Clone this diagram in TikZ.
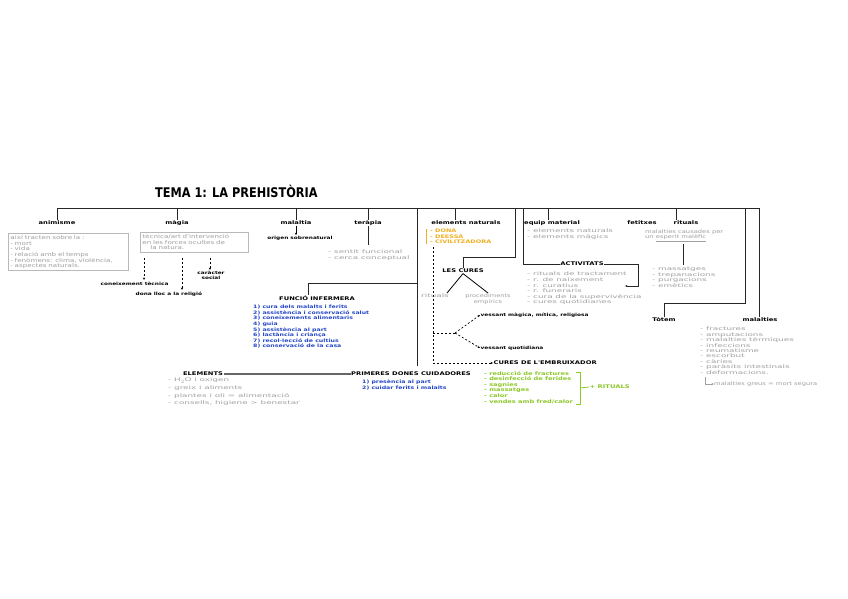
\documentclass[tikz,border=0pt]{standalone}
\usepackage{fontspec}
\setmainfont{DejaVu Sans}
\newfontfamily\hw[FakeStretch=1.35]{DejaVu Sans}
\newfontfamily\hwl[FakeStretch=1.8]{DejaVu Sans}
\newfontfamily\ttlfont[FakeStretch=0.85]{DejaVu Sans}
\usetikzlibrary{arrows.meta}
\definecolor{txtgray}{RGB}{160,160,160}
\definecolor{hblue}{RGB}{35,70,200}
\definecolor{horange}{RGB}{240,175,30}
\definecolor{hgreen}{RGB}{140,200,40}
\begin{document}
\begin{tikzpicture}[x=1pt,y=-1pt,
  lbl/.style={font=\hw\bfseries\fontsize{5}{5}\selectfont, inner sep=0.5pt},
  sml/.style={font=\hw\bfseries\fontsize{4.3}{5}\selectfont, inner sep=0.5pt, align=center},
  lst/.style={font=\hwl\fontsize{4.9}{5.6}\selectfont, text=txtgray, align=left, inner sep=0pt, anchor=north west},
  boxlst/.style={lst, font=\hw\fontsize{5.3}{5.6}\selectfont, draw=gray!55, line width=0.8pt, inner sep=2pt},
  blst/.style={lst, text=hblue, font=\hw\bfseries\fontsize{4.6}{5.6}\selectfont},
  ln/.style={line width=1pt, draw=black!85},
  dsh/.style={line width=0.7pt, dash pattern=on 2pt off 2pt},
  tip/.style={-{Stealth[length=2.5pt,width=2.2pt]}}
]
\fill[white] (0,0) rectangle (848,599);
\useasboundingbox (0,0) rectangle (848,599);

% title
\node[font=\ttlfont\bfseries\fontsize{13.3}{14}\selectfont, anchor=west, inner sep=0] (title) at (155,191) {TEMA 1: LA PREHISTÒRIA};

% bus
\coordinate (busL) at (57,208);
\coordinate (busR) at (759,208);
\draw[ln] (busL) -- (busR);

% top labels
\node[lbl] (anim) at (57,223) {animisme};
\node[lbl] (magia) at (177,223) {màgia};
\node[lbl] (malaltia) at (296,223) {malaltia};
\node[lbl] (terapia) at (368,223) {teràpia};
\node[lbl] (elnat) at (466,223) {elements naturals};
\node[lbl] (equip) at (552,223) {equip material};
\node[lbl] (fet) at (642,223) {fetitxes};
\node[lbl] (ritu) at (686,223) {rituals};

\draw[ln] (anim.north) -- (anim.north |- busL);
\draw[ln] (magia.north) -- (magia.north |- busL);
\draw[ln] (malaltia.north) -- (malaltia.north |- busL);
\draw[ln] (terapia.north) -- (terapia.north |- busL);
\coordinate (c455) at (455,208);
\draw[ln] (c455) -- (c455 |- elnat.north);
\coordinate (c548) at (548,208);
\draw[ln] (c548) -- (c548 |- equip.north);
\coordinate (c676) at (676,208);
\draw[ln] (c676) -- (c676 |- ritu.north);

% animisme
\node[boxlst, text width=116pt] (animbox) at (8,233)
 {així tracten sobre la :\\- mort\\- vida\\- relació amb el temps\\- fenòmens: clima, violència,\\- aspectes naturals.};

% magia
\node[boxlst, text width=104pt] (magbox) at (140,232)
 {tècnica/art d'intervenció\\ en les forces ocultes de\\ \hspace*{8pt}la natura.};
\node[sml, anchor=west] (tec) at (100,284) {coneixement tècnica};
\node[sml, anchor=west] (rel) at (135,294) {dona lloc a la religió};
\node[sml] (soc) at (211,275) {caràcter\\social};
\coordinate (m1) at (144,258); \coordinate (m1e) at (144,280);
\coordinate (m2) at (182,258); \coordinate (m2e) at (182,290);
\coordinate (m3) at (210,258); \coordinate (m3e) at (210,270);
\draw[dsh,tip] (m1) -- (m1e);
\draw[dsh,tip] (m2) -- (m2e);
\draw[dsh,tip] (m3) -- (m3e);

% malaltia
\node[sml] (orig) at (300,238) {origen sobrenatural};
\draw[line width=1pt, tip] (malaltia.south) -- (malaltia.south |- orig.north);

% terapia
\node[lst] (terlist) at (328,250) {- sentit funcional\\- cerca conceptual};
\draw[ln] (terapia.south) -- ([yshift=5pt]terapia.south |- terlist.north);

% vertical 417 and funcio infermera
\coordinate (v417) at (417,208);
\node[lbl] (pdc) at (411,374) {PRIMERES DONES CUIDADORES};
\draw[ln] (v417) -- ([yshift=5pt]v417 |- pdc.north);
\node[lbl] (fi) at (317,298) {FUNCIÓ INFERMERA};
\coordinate (fj) at (417,283);
\draw[ln] ([xshift=-9pt]fi.north) |- (fj);
\node[blst] (filist) at (253,305) {1) cura dels malalts i ferits\\2) assistència i conservació salut\\3) coneixements alimentaris\\4) guia\\5) assistència al part\\6) lactància i criança\\7) recol·lecció de cultius\\8) conservació de la casa};

% elements
\node[lbl] (elem) at (203,374) {ELEMENTS};
\draw[line width=1.2pt, black!60] (elem.east) -- (pdc.west);
\node[lst, font=\hwl\fontsize{4.9}{7.6}\selectfont] (elemlist) at (168,378) {- H$_2$O i oxigen\\- greix i aliments\\- plantes i oli = alimentació\\- consells, higiene > benestar};
\node[blst] (pdclist) at (362,380) {1) presència al part\\2) cuidar ferits i malalts};

% elements naturals
\node[lst, text=horange, font=\hw\bfseries\fontsize{4.8}{5.6}\selectfont] (orlist) at (430,229) {- DONA\\- DEESSA\\- CIVILITZADORA};
\draw[horange, line width=0.8pt] ([xshift=-4pt]orlist.north west) -- ([xshift=-4pt]orlist.south west);

% dashed structure
\node[lbl, anchor=west] (cem) at (493,363) {CURES DE L'EMBRUIXADOR};
\draw[dsh, tip] ([xshift=3pt,yshift=-3pt]orlist.south west) |- (cem.west);
\node[sml, anchor=west] (vm) at (480,315) {vessant màgica, mítica, religiosa};
\node[sml, anchor=west] (vq) at (480,348) {vessant quotidiana};
\coordinate (br0) at (433,333);
\coordinate (br1) at (455,333);
\draw[dsh] (br0) -- (br1);
\draw[dsh, tip] (br1) -- (vm.west);
\draw[dsh, tip] (br1) -- (vq.west);

% green list
\node[lst, text=hgreen, font=\hw\bfseries\fontsize{4.9}{5.6}\selectfont] (glist) at (484,371) {- reducció de fractures\\- desinfecció de ferides\\- sagnies\\- massatges\\- calor\\- vendes amb fred/calor};
\coordinate (gb1) at (576,372); \coordinate (gb2) at (580,372);
\coordinate (gb3) at (580,404); \coordinate (gb4) at (576,404);
\coordinate (gb5) at (580,388);
\node[lbl, text=hgreen, anchor=west] (plusrit) at (589,387) {+ RITUALS};
\draw[hgreen, line width=0.8pt] (gb1) -- (gb2) -- (gb3) -- (gb4);
\draw[hgreen, line width=0.8pt] (gb5) -- (plusrit.west);

% les cures
\coordinate (c515) at (515,208);
\coordinate (c515b) at (515,257);
\node[lbl] (lc) at (463,271) {LES CURES};
\draw[ln] (c515) -- (c515b) -| (lc.north);
\node[lst, anchor=north] (rit) at (435,294) {rituals};
\node[lst, anchor=north, align=center, font=\hw\fontsize{4.9}{5.6}\selectfont] (pe) at (488,294) {procediments\\empírics};
\draw[line width=0.8pt] (lc.south) -- ([xshift=-2pt,yshift=1pt]rit.north east);
\draw[line width=0.8pt] (lc.south) -- ([yshift=1pt]pe.north);

% equip material
\node[lst] (eqlist) at (527,229) {- elements naturals\\- elements màgics};

% activitats
\node[lbl] (act) at (582,264) {ACTIVITATS};
\coordinate (c523) at (523,208);
\draw[ln] (c523) |- (act.west);
\coordinate (a1) at (638,286);
\coordinate (a2) at (625,286);
\draw[ln, tip] (act.east) -| (a1) -- (a2);
\node[lst] (actlist) at (527,272) {- rituals de tractament\\- r. de naixement\\- r. curatius\\- r. funeraris\\- cura de la supervivència\\- cures quotidianes};

% rituals
\node[lst, font=\hw\fontsize{5}{5.6}\selectfont] (ritdesc) at (645,229) {malalties causades per\\un \underline{esperit malèfic}};
\node[lst] (ritlist) at (652,267) {- massatges\\- trepanacions\\- purgacions\\- emètics};
\coordinate (c683) at (683,0);
\draw[ln] ([yshift=-2pt]c683 |- ritdesc.south) -- ([yshift=2pt]c683 |- ritlist.north);

% totem and malalties
\node[lbl] (totem) at (664,320) {Tòtem};
\node[lbl] (mal) at (760,320) {malalties};
\coordinate (c745) at (745,208);
\coordinate (c745b) at (745,303);
\draw[ln] (c745) -- (c745b) -| (totem.north);
\coordinate (c759) at (759,208);
\draw[ln] (c759) -- (c759 |- mal.north);
\node[lst, font=\hwl\fontsize{4.9}{5.4}\selectfont] (mallist) at (700,327) {- fractures\\- amputacions\\- malalties tèrmiques\\- infeccions\\- reumatisme\\- escorbut\\- càries\\- paràsits intestinals\\- deformacions.};
\node[lst, anchor=west, font=\hw\fontsize{5}{5}\selectfont] (greus) at (714,384) {malalties greus = mort segura};
\coordinate (gl0) at (705,377);
\draw[txtgray, line width=0.6pt, tip] (gl0) |- (greus.west);

\end{tikzpicture}
\end{document}
